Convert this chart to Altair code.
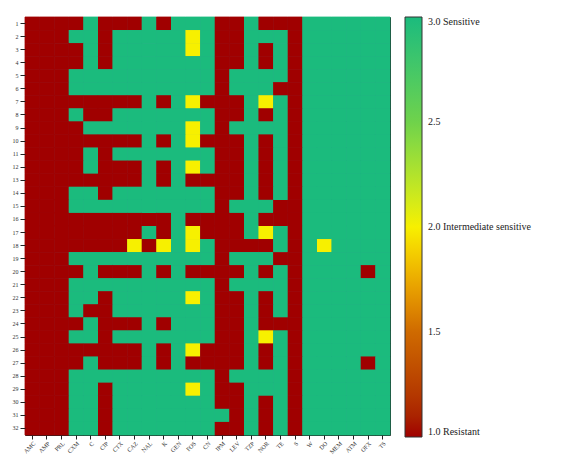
import altair as alt
import pandas as pd

antibiotics = ["AMC", "AMP", "PRL", "CXM", "C", "CIP", "CTX", "CAZ", "NAL", "K",
               "GEN", "FOS", "CN", "IPM", "LEV", "TZP", "NOR", "TE", "S", "W",
               "DO", "MEM", "ATM", "OFX", "TS"]
isolates = [str(i) for i in range(1, 33)]

# 1 = Resistant, 2 = Intermediate sensitive, 3 = Sensitive (one string per isolate)
rows = [
    "1111311131333113111333333",
    "1113313333323113331333333",
    "1111313333323113131333333",
    "1111313333333113131333333",
    "1113333333333133331333333",
    "1113333333333133311333333",
    "1111111131321113231333333",
    "1113113333333113131333333",
    "1111333333323133331333333",
    "1111111131321113131333333",
    "1111313333333113131333333",
    "1111311131323113131333333",
    "1111111131311113131333333",
    "1113313333333113131333333",
    "1113333333333133311333333",
    "1111111111311113111333333",
    "1111111131321113231333333",
    "1111111212323111131323333",
    "1113333333333133311333333",
    "1111311131311113131333313",
    "1113333333333133331333333",
    "1113313333323113131333333",
    "1113113333333113131333333",
    "1111311131333113111333333",
    "1113313333333113231333333",
    "1111111131321113131333333",
    "1111311131311113131333313",
    "1113333333333133331333333",
    "1113313333323113331333333",
    "1113313333333113131333333",
    "1113313333333313131333333",
    "1113313333333113131333333",
]

records = []
for iso, row in zip(isolates, rows):
    for ab, ch in zip(antibiotics, row):
        v = float(ch)
        records.append({"isolate": iso, "antibiotic": ab, "value": v})
df = pd.DataFrame(records)

serif = "Liberation Serif"

color_domain = [1, 1.5, 2, 2.5, 3]
color_range = ["#a00000", "#cf6a00", "#f7f000", "#6fd24b", "#1bbb7d"]
cscale = alt.Scale(domain=color_domain, range=color_range)

label_expr = ("datum.value == 3 ? '3.0 Sensitive' : datum.value == 2 ? "
              "'2.0 Intermediate sensitive' : datum.value == 1 ? '1.0 Resistant' : "
              "format(datum.value, '.1f')")

x_enc = alt.X("antibiotic:N", sort=antibiotics, title=None,
              axis=alt.Axis(labelAngle=-45, labelFontSize=6, labelFont=serif,
                            tickSize=4, tickColor="#222", domain=False, grid=False,
                            labelColor="#333", labelPadding=1))
y_enc = alt.Y("isolate:N", sort=isolates, title=None,
              axis=alt.Axis(labelFontSize=6, labelFont=serif, tickSize=5,
                            tickColor="#222", domain=False, grid=False,
                            labelColor="#333", labelPadding=2))

base = alt.Chart(df)

# underlay with thin same-coloured outlines so no seams show between cells
under = base.mark_rect(strokeWidth=0.8).encode(
    x=x_enc, y=y_enc,
    stroke=alt.Stroke("value:Q", scale=cscale, legend=None),
)

cells = base.mark_rect(strokeWidth=0).encode(
    x=x_enc, y=y_enc,
    color=alt.Color("value:Q", scale=cscale,
                    legend=alt.Legend(type="gradient", title=None, orient="right",
                                      direction="vertical",
                                      gradientLength=420, gradientThickness=17,
                                      values=[1, 1.5, 2, 2.5, 3], labelExpr=label_expr,
                                      labelFont=serif, labelFontSize=10,
                                      labelColor="#222", offset=15, labelOffset=6,
                                      gradientStrokeColor="#333",
                                      gradientStrokeWidth=1)),
)

chart = alt.layer(under, cells).resolve_scale(
    stroke="independent"
).resolve_legend(
    stroke="independent"
).properties(
    width=365, height=418,
    padding={"left": 4, "top": 8, "right": 0, "bottom": 0},
).configure_view(
    stroke="#222", strokeWidth=1,
).configure_axis(
    grid=False,
)

chart.save("out.html", embed_options={"renderer": "svg", "actions": False})
